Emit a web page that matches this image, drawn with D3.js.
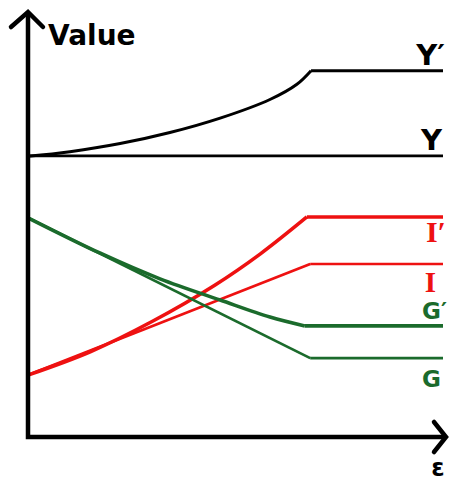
<!DOCTYPE html>
<html>
<head>
<meta charset="utf-8">
<script src="https://cdn.jsdelivr.net/npm/d3@7"></script>
<style>
  body { margin: 0; background: #fff; }
  svg { display: block; }
</style>
</head>
<body>
<div id="chart"></div>
<script>
// size of the picture
var width = 449,
    height = 483;

// epsilon values (x) and curve values (y)
var yFlat = 66.3;
var yPrimeEps = [0, 1.01, 2.22, 3.42, 4.63, 5.83, 6.48, 6.82];
var yPrimeVal = [66.2, 67.3, 69.2, 71.8, 75.2, 79.6, 83.2, 86.4];

var iEps = [0, 6.80];
var iVal = [14.6, 40.8];
var iPrimeEps = [0, 1.5, 3.0, 4.5, 5.6, 6.72];
var iPrimeVal = [14.6, 20.1, 27.3, 35.8, 43.2, 51.9];

var gEps = [0, 6.80];
var gVal = [51.7, 18.6];
var gPrimeEps = [0, 1.73, 3.18, 4.63, 5.83, 6.67];
var gPrimeVal = [51.7, 43.4, 37.3, 32.3, 28.3, 26.2];

var epsMax = 10;

var svg = d3.select('#chart')
            .append('svg')
            .attr('width', width)
            .attr('height', height);

var x = d3.scaleLinear().domain([0, 10]).range([28, 443]);
var y = d3.scaleLinear().domain([0, 100]).range([437, 13]);

var red = '#ee1111',
    green = '#1b6b2c';

// turn two arrays into points
function pts(eps, vals) {
  return eps.map(function(e, i) { return [e, vals[i]]; });
}

var line = d3.line()
             .x(function(d) { return x(d[0]); })
             .y(function(d) { return y(d[1]); });

var curve = d3.line()
              .curve(d3.curveCatmullRom.alpha(0.5))
              .x(function(d) { return x(d[0]); })
              .y(function(d) { return y(d[1]); });

var series = [
  { eps: [0, epsMax], vals: [yFlat, yFlat], color: '#000', w: 2.8 },
  { eps: yPrimeEps, vals: yPrimeVal, color: '#000', w: 3 },
  { eps: iEps, vals: iVal, color: red, w: 2.7 },
  { eps: iPrimeEps, vals: iPrimeVal, color: red, w: 3.6 },
  { eps: gEps, vals: gVal, color: green, w: 2.7 },
  { eps: gPrimeEps, vals: gPrimeVal, color: green, w: 3.6 }
];

series.forEach(function(s) {
  var p = pts(s.eps, s.vals);
  svg.append('path')
     .attr('d', curve(p))
     .attr('fill', 'none')
     .attr('stroke', s.color)
     .attr('stroke-width', s.w);
  // flat part after the kink
  var last = p[p.length - 1];
  svg.append('path')
     .attr('d', line([last, [epsMax, last[1]]]))
     .attr('fill', 'none')
     .attr('stroke', s.color)
     .attr('stroke-width', s.w);
});

// axes with open arrow heads
var x0 = x(0), y0 = y(0), xEnd = 446, yTop = 12;
svg.append('path')
   .attr('d', 'M' + x0 + ',' + yTop + 'V' + y0 + 'H' + xEnd)
   .attr('fill', 'none')
   .attr('stroke', '#000')
   .attr('stroke-width', 4.5);
svg.append('path')
   .attr('d', 'M' + (x0 - 17) + ',' + (yTop + 15) + 'L' + x0 + ',' + yTop + 'L' + (x0 + 15) + ',' + (yTop + 15))
   .attr('fill', 'none')
   .attr('stroke', '#000')
   .attr('stroke-width', 4.5)
   .attr('stroke-linecap', 'round');
svg.append('path')
   .attr('d', 'M' + (xEnd - 12) + ',' + (y0 - 15) + 'L' + xEnd + ',' + y0 + 'L' + (xEnd - 12) + ',' + (y0 + 15))
   .attr('fill', 'none')
   .attr('stroke', '#000')
   .attr('stroke-width', 4.5)
   .attr('stroke-linecap', 'round');

// text
var sans = 'DejaVu Sans, Verdana, sans-serif',
    serif = 'Liberation Serif, Times New Roman, serif';

var labels = [
  { t: 'Value', x: 48, y: 45, size: 28, font: sans, color: '#000', anchor: 'start' },
  { t: 'Y\u2032', x: 445, y: 65, size: 29, font: sans, color: '#000', anchor: 'end' },
  { t: 'Y', x: 442, y: 150, size: 29, font: sans, color: '#000', anchor: 'end' },
  { t: 'I\u2032', x: 446, y: 242, size: 30, font: serif, color: red, anchor: 'end' },
  { t: 'I', x: 436, y: 292, size: 29, font: serif, color: red, anchor: 'end' },
  { t: 'G\u2032', x: 447, y: 319, size: 23, font: sans, color: green, anchor: 'end' },
  { t: 'G', x: 441, y: 387, size: 23, font: sans, color: green, anchor: 'end' },
  { t: '\u03b5', x: 438, y: 476, size: 24, font: sans, color: '#000', anchor: 'middle' }
];

svg.selectAll('text.lbl')
   .data(labels)
   .enter()
   .append('text')
   .attr('class', 'lbl')
   .attr('x', function(d) { return d.x; })
   .attr('y', function(d) { return d.y; })
   .attr('text-anchor', function(d) { return d.anchor; })
   .style('font-family', function(d) { return d.font; })
   .style('font-size', function(d) { return d.size + 'px'; })
   .style('font-weight', 'bold')
   .style('fill', function(d) { return d.color; })
   .text(function(d) { return d.t; });
</script>
</body>
</html>
